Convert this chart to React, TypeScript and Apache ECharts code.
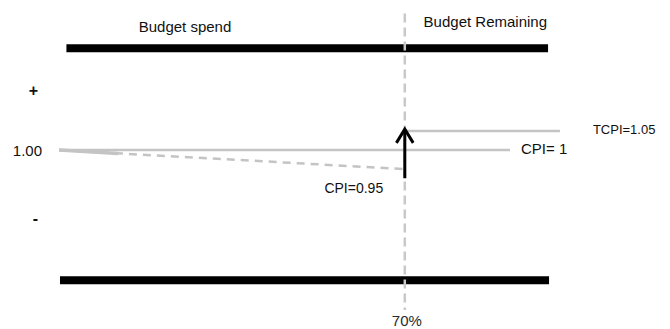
import { useEffect, useRef } from "react";
import * as echarts from "echarts";

// Budget progress (% spent) on x, cost performance index on y
const budgetSpentPct = 70;
const cpiPlanned = 1.0;
const cpiActual = 0.95;
const tcpi = 1.05;

const upperBound: number[][] = [[1.5, 1.268], [99, 1.268]];
const lowerBound: number[][] = [[0.2, 0.657], [99.2, 0.657]];
const cpiPlanLine: number[][] = [[0, cpiPlanned], [91.3, cpiPlanned]];
const cpiTrendLead: number[][] = [[0, cpiPlanned], [12, 0.991]];
const cpiTrend: number[][] = [[0, cpiPlanned], [budgetSpentPct, cpiActual]];
const tcpiLine: number[][] = [[budgetSpentPct, tcpi], [101.4, tcpi]];
const milestoneLine: number[][] = [[budgetSpentPct, 1.36], [budgetSpentPct, 0.579]];
const arrowShaft: number[][] = [[budgetSpentPct, 0.926], [budgetSpentPct, 1.055]];
const arrowHead: number[][] = [[68.3, 1.019], [budgetSpentPct, 1.055], [71.7, 1.019]];

const yTickLabels = [
  { value: 0.821, text: "-" },
  { value: 1.0, text: "1.00" },
  { value: 1.158, text: "+" },
];

const regionLabels = [
  { value: [25.5, 1.326], text: "Budget spend" },
  { value: [86.3, 1.338], text: "Budget Remaining" },
];

const FONT = "'Liberation Sans', Arial, Helvetica, sans-serif";
const GRAY = "#c4c4c4";
const INK = "#111";

export default function App() {
  const ref = useRef<HTMLDivElement>(null);

  useEffect(() => {
    if (!ref.current) return;
    const chart = echarts.init(ref.current, undefined, { renderer: "svg" });

    const plain = (data: number[][], color: string, width: number, extra: any = {}) => ({
      type: "line",
      data,
      symbol: "none",
      showSymbol: false,
      silent: true,
      ...extra,
      lineStyle: { color, width, cap: "butt", join: "miter", ...(extra.lineStyle || {}) },
    });

    const textLabel = (formatter: string, opts: any) => ({
      show: true,
      formatter,
      color: INK,
      opacity: 1,
      fontFamily: FONT,
      textBorderWidth: 0,
      ...opts,
    });

    chart.setOption({
      animation: false,
      textStyle: { fontFamily: FONT },
      grid: { left: 59, right: 67.6, top: 2, bottom: 8 },
      xAxis: { type: "value", min: 0, max: 110, show: false },
      yAxis: {
        type: "value",
        min: 0.55,
        max: 1.39,
        axisLine: { show: false },
        axisTick: { show: false },
        splitLine: { show: false },
        axisLabel: {
          customValues: yTickLabels.map((d) => d.value),
          margin: 17,
          color: INK,
          fontSize: 15,
          fontFamily: FONT,
          formatter: (v: number) => {
            const hit = yTickLabels.find((d) => Math.abs(d.value - v) < 1e-6);
            if (!hit) return "";
            return hit.text === "1.00" ? hit.text : `{pm|${hit.text}}`;
          },
          rich: {
            pm: { fontSize: 16, fontWeight: "bold", padding: [0, 4, 0, 0], color: INK, fontFamily: FONT },
          },
        },
      },
      series: [
        plain(upperBound, "#000", 8),
        plain(lowerBound, "#000", 8),
        plain(cpiPlanLine, GRAY, 2.5, {
          endLabel: textLabel(`CPI= ${cpiPlanned}`, { distance: 11, offset: [0, -2], fontSize: 15 }),
        }),
        plain(cpiTrendLead, GRAY, 3.5),
        plain(cpiTrend, GRAY, 2.5, { lineStyle: { type: [8, 6] } }),
        plain(tcpiLine, GRAY, 2.5, {
          endLabel: textLabel(`TCPI=${tcpi.toFixed(2)}`, { distance: 33, offset: [0, -2], fontSize: 13 }),
        }),
        plain(milestoneLine, "#c8c8c8", 2.5, { lineStyle: { type: [9, 5] } }),
        plain(arrowShaft, "#000", 3),
        plain(arrowHead, "#000", 3),
        {
          type: "scatter",
          silent: true,
          symbolSize: 0,
          itemStyle: { opacity: 1, color: "transparent" },
          data: [
            {
              value: [budgetSpentPct, cpiActual],
              label: textLabel(`CPI=${cpiActual.toFixed(2)}`, {
                position: "bottom",
                distance: 5,
                offset: [-51, 7],
                fontSize: 14,
              }),
            },
            {
              value: [budgetSpentPct, 0.579],
              label: textLabel(`${budgetSpentPct}%`, {
                position: "bottom",
                distance: 3,
                offset: [2, 0],
                fontSize: 15,
                color: "#2a2a2a",
              }),
            },
            ...regionLabels.map((r) => ({
              value: r.value,
              label: textLabel(r.text, { position: "inside", fontSize: 15 }),
            })),
          ],
        },
      ],
    });

    return () => chart.dispose();
  }, []);

  return (
    <div
      ref={ref}
      style={{ position: "fixed", left: 0, top: 0, width: 670, height: 329, background: "#fff" }}
    />
  );
}
